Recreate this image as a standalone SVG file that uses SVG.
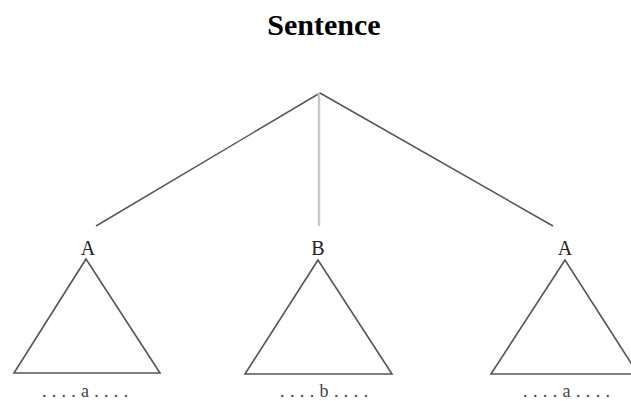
<svg xmlns="http://www.w3.org/2000/svg" width="631" height="401" viewBox="0 0 631 401">
<style>
.title{font-family:"Liberation Serif",serif;font-weight:bold;font-size:30px;fill:#000}
.lbl{font-family:"Liberation Serif",serif;font-size:20px;fill:#222}
.leaf{font-family:"Liberation Serif",serif;font-size:18px;fill:#444}
.edge{stroke:#555;stroke-width:1.5;fill:none}
.tri{stroke:#555;stroke-width:1.6;fill:none;stroke-linejoin:miter}
</style>
<rect width="631" height="401" fill="#fff"/>
<text class="title" x="324" y="35" text-anchor="middle">Sentence</text>
<g id="connectors">
<line class="edge" x1="320" y1="93" x2="96" y2="226"/>
<line x1="319" y1="93" x2="319" y2="226" stroke="#c8c8c8" stroke-width="2.5"/>
<line class="edge" x1="320" y1="93" x2="553" y2="226"/>
</g>
<g id="nodeA1">
<text class="lbl" x="88" y="255" text-anchor="middle">A</text>
<polygon class="tri" points="86,259 14,373 160,373"/>
<text class="leaf" x="42" y="397" textLength="86" lengthAdjust="spacing">....a....</text>
</g>
<g id="nodeB">
<text class="lbl" x="318" y="255" text-anchor="middle">B</text>
<polygon class="tri" points="318,260 245,374 392,374"/>
<text class="leaf" x="280" y="397" textLength="88" lengthAdjust="spacing">....b....</text>
</g>
<g id="nodeA2">
<text class="lbl" x="565" y="255" text-anchor="middle">A</text>
<polygon class="tri" points="565,260 491,374 638,374"/>
<text class="leaf" x="523" y="397" textLength="87" lengthAdjust="spacing">....a....</text>
</g>
</svg>
